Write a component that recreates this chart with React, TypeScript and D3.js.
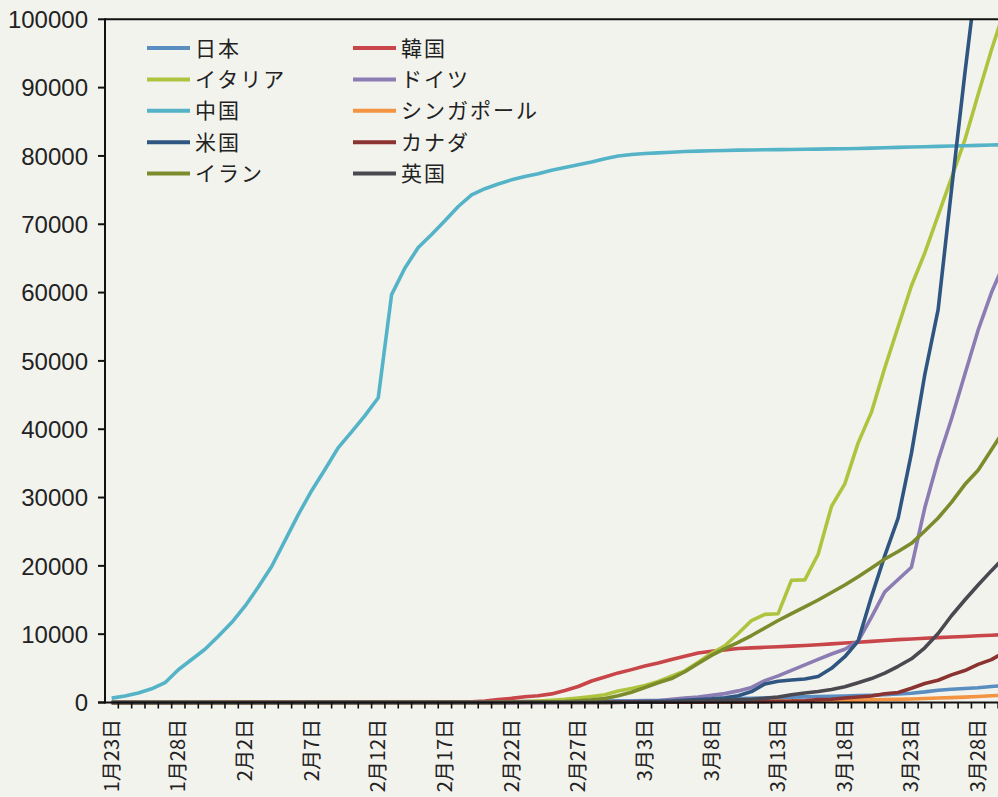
import React from 'react';
import * as d3 from 'd3';

// categories: 1/23 .. 3/30 (2020)
const dates = [
  '1/23','1/24','1/25','1/26','1/27','1/28','1/29','1/30','1/31',
  '2/1','2/2','2/3','2/4','2/5','2/6','2/7','2/8','2/9','2/10','2/11','2/12','2/13','2/14','2/15',
  '2/16','2/17','2/18','2/19','2/20','2/21','2/22','2/23','2/24','2/25','2/26','2/27','2/28','2/29',
  '3/1','3/2','3/3','3/4','3/5','3/6','3/7','3/8','3/9','3/10','3/11','3/12','3/13','3/14','3/15',
  '3/16','3/17','3/18','3/19','3/20','3/21','3/22','3/23','3/24','3/25','3/26','3/27','3/28','3/29','3/30',
];

const labelDates = ['1/23','1/28','2/2','2/7','2/12','2/17','2/22','2/27','3/3','3/8','3/13','3/18','3/23','3/28'];
const yTicks = [0, 10000, 20000, 30000, 40000, 50000, 60000, 70000, 80000, 90000, 100000];

const japan = [
  2,2,2,4,4,7,7,11,15,20,
  20,20,22,25,25,25,26,26,26,28,
  28,30,33,40,55,60,65,75,95,105,
  120,135,145,155,170,190,210,230,240,255,
  270,290,320,350,420,480,520,580,620,680,
  720,780,820,880,920,960,1000,1060,1150,1250,
  1350,1550,1800,1950,2050,2150,2350,2500,
];
const korea = [
  1,1,2,2,3,4,4,4,4,11,
  12,15,15,16,19,23,24,24,25,27,
  28,28,28,28,28,29,31,104,204,433,
  602,833,977,1261,1766,2337,3150,3736,4335,4812,
  5328,5766,6284,6767,7250,7500,7700,7900,8000,8080,
  8150,8250,8350,8450,8580,8700,8820,8950,9080,9200,
  9300,9400,9500,9580,9670,9760,9850,9950,
];
const italy = [
  0,0,0,0,0,0,0,0,2,2,
  2,2,2,3,3,3,3,3,3,3,
  3,3,3,3,3,3,3,3,3,20,
  62,155,229,322,453,655,888,1128,1694,2036,
  2502,3089,3858,4636,5883,7200,8300,10100,12000,12900,
  13000,17900,17950,21700,28700,32000,38000,42500,49000,55000,
  61000,65800,71300,76800,82300,89000,95500,101500,
];
const germany = [
  0,0,0,0,0,1,4,4,5,8,
  10,12,12,12,13,14,14,14,14,16,
  16,16,16,16,16,16,16,16,16,16,
  16,16,16,17,27,46,48,79,130,159,
  196,262,482,670,800,1040,1300,1700,2200,3200,
  3900,4700,5500,6300,7100,7800,9000,12500,16200,18000,
  19800,28500,35500,41500,48000,54500,60000,64500,
];
const china = [
  640,950,1400,2000,2900,4800,6300,7800,9700,11700,
  14100,16900,19900,23700,27500,31000,34100,37300,39600,42000,
  44600,59700,63600,66600,68500,70500,72600,74300,75200,75900,
  76500,77000,77400,77900,78300,78700,79100,79600,80000,80200,
  80350,80450,80550,80650,80700,80750,80800,80850,80880,80900,
  80920,80950,80980,81000,81030,81060,81100,81150,81200,81250,
  81300,81350,81400,81450,81500,81550,81600,81650,
];
const singapore = [
  1,3,3,4,5,7,7,10,13,16,
  18,18,24,28,28,30,33,40,45,47,
  50,58,67,72,75,77,81,84,84,85,
  85,89,89,91,93,93,93,102,106,108,
  110,110,117,130,138,150,150,160,178,178,
  200,212,226,243,266,313,345,385,432,455,
  509,580,650,710,780,880,980,1080,
];
const usa = [
  1,1,2,2,5,5,5,5,6,7,
  8,8,11,11,11,12,12,12,12,12,
  13,13,14,14,14,14,14,14,14,15,
  15,35,35,35,53,57,60,62,75,100,
  124,158,221,319,435,541,700,1000,1600,2700,
  3100,3300,3450,3800,5000,6700,9000,15500,21500,27000,
  36500,48000,57500,75000,92000,108000,125000,140000,
];
const canada = [
  0,0,0,1,1,2,2,3,4,4,
  4,4,4,5,5,7,7,7,7,7,
  7,7,7,7,7,7,8,8,8,8,
  9,9,10,10,11,13,14,20,24,27,
  30,33,37,49,54,64,77,79,108,117,
  193,198,252,415,478,657,800,943,1277,1469,
  2088,2790,3251,4042,4682,5576,6280,7398,
];
const iran = [
  0,0,0,0,0,0,0,0,0,0,
  0,0,0,0,0,0,0,0,0,0,
  0,0,0,0,0,0,0,0,5,18,
  28,43,61,95,139,245,388,593,978,1501,
  2200,2900,3500,4500,5700,6900,7900,8800,9800,10900,
  12000,13000,14000,15000,16100,17200,18400,19700,21000,22100,
  23300,25100,27000,29300,31900,34000,37000,40000,
];
const uk = [
  0,0,0,0,0,0,0,0,2,2,
  2,2,2,2,3,3,3,8,8,8,
  9,9,9,9,9,9,9,9,9,9,
  9,13,13,13,15,15,20,23,36,40,
  51,85,115,163,206,273,321,382,456,600,
  800,1140,1400,1600,1900,2300,2900,3500,4300,5300,
  6400,8000,10100,12700,15000,17200,19300,21300,
];

const seriesNames = ['日本', '韓国', 'イタリア', 'ドイツ', '中国', 'シンガポール', '米国', 'カナダ', 'イラン', '英国'];
const seriesValues = [japan, korea, italy, germany, china, singapore, usa, canada, iran, uk];
const seriesColors = ['#5a8dc0', '#c8464a', '#afc43e', '#8b7cb3', '#55b3c8', '#f39443', '#2f5680', '#8a3330', '#7c8c2c', '#4b4850'];

const W = 998;
const H = 797;
const left = 105;
const band = 13.33;
const top = 19.3;
const bottom = 702.5;

const App: React.FC = () => {
  const x = d3.scaleBand<string>()
    .domain(dates)
    .range([left, left + band * dates.length])
    .paddingInner(0)
    .paddingOuter(0);
  const y = d3.scaleLinear().domain([0, 100000]).range([bottom, top]);

  const line = d3.line<number>()
    .x((_, i) => (x(dates[i]) as number) + x.bandwidth() / 2)
    .y((v) => y(v));

  const cjk = '"Noto Sans CJK JP", "Noto Sans", sans-serif';
  const latin = '"Liberation Sans", Arial, sans-serif';

  // legend is filled row by row, two columns
  const legendX = [147, 353];
  const legendY0 = 48;
  const legendDy = 31.4;

  return (
    <svg
      width={W}
      height={H}
      style={{ position: 'absolute', left: 0, top: 0, background: '#f3f3ee' }}
    >
      <defs>
        <clipPath id="plot-clip">
          <rect x={left} y={top} width={W - left + 20} height={bottom - top + 3} />
        </clipPath>
      </defs>
      <rect x={0} y={0} width={W} height={H} fill="#f3f3ee" />

      {/* series */}
      <g clipPath="url(#plot-clip)">
        {seriesValues.map((vals, k) => (
          <path
            key={seriesNames[k]}
            d={line(vals) || ''}
            fill="none"
            stroke={seriesColors[k]}
            strokeWidth={3.6}
            strokeLinejoin="round"
          />
        ))}
      </g>

      {/* plot border top */}
      <line x1={left} x2={W} y1={top} y2={top} stroke="#111" strokeWidth={2} />

      {/* y axis */}
      <line x1={left} x2={left} y1={top - 1} y2={bottom + 1} stroke="#111" strokeWidth={2} />
      {yTicks.map((t) => (
        <g key={t}>
          <line x1={left - 7} x2={left} y1={y(t)} y2={y(t)} stroke="#111" strokeWidth={2} />
          <text
            x={88}
            y={y(t)}
            dy="0.36em"
            textAnchor="end"
            fontFamily={latin}
            fontSize={24}
            fill="#222"
          >
            {t}
          </text>
        </g>
      ))}

      {/* x axis */}
      <line x1={left - 7} x2={W} y1={bottom} y2={bottom} stroke="#111" strokeWidth={2} />
      {dates.map((d) => (
        <line
          key={d}
          x1={(x(d) as number) + band}
          x2={(x(d) as number) + band}
          y1={bottom}
          y2={bottom + 6}
          stroke="#111"
          strokeWidth={1.6}
        />
      ))}
      {labelDates.map((d) => {
        const [m, day] = d.split('/');
        const cx = (x(d) as number) + x.bandwidth() / 2;
        return (
          <text
            key={d}
            transform={`translate(${cx},719) rotate(-90)`}
            textAnchor="end"
            dy="0.35em"
            fontFamily={cjk}
            fontSize={20}
            fill="#222"
          >
            {`${m}月${day}日`}
          </text>
        );
      })}

      {/* legend */}
      {seriesNames.map((name, k) => {
        const col = k % 2;
        const row = Math.floor(k / 2);
        const lx = legendX[col];
        const ly = legendY0 + row * legendDy;
        return (
          <g key={name}>
            <line x1={lx} x2={lx + 43} y1={ly} y2={ly} stroke={seriesColors[k]} strokeWidth={4} />
            <text
              x={lx + 48}
              y={ly}
              dy="0.36em"
              fontFamily={cjk}
              fontSize={21}
              letterSpacing={2}
              fill="#222"
            >
              {name}
            </text>
          </g>
        );
      })}
    </svg>
  );
};

export default App;
